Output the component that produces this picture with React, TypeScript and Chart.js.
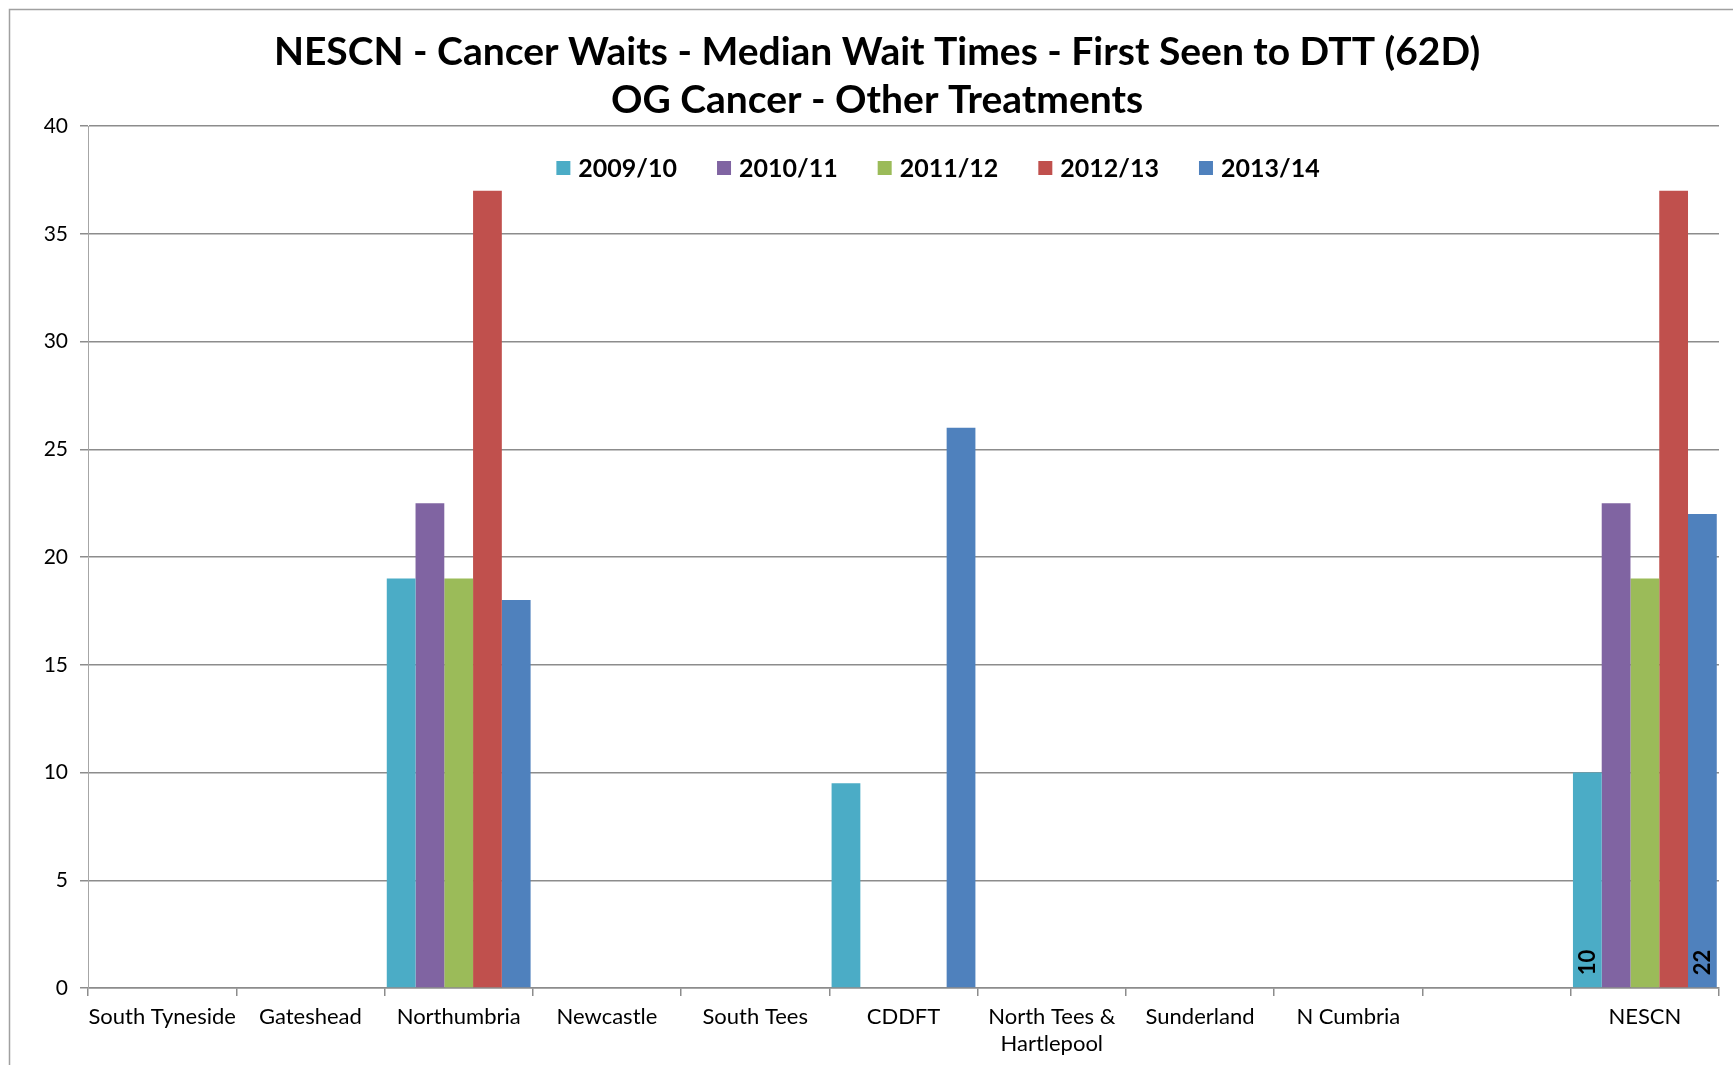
import React, { useEffect, useRef } from "react";
import { Chart, registerables } from "chart.js";

Chart.register(...registerables);

const titleLines = [
  "NESCN - Cancer Waits - Median Wait Times - First Seen to DTT (62D)",
  "OG Cancer - Other Treatments",
];

const categories: (string | string[])[] = [
  "South Tyneside",
  "Gateshead",
  "Northumbria",
  "Newcastle",
  "South Tees",
  "CDDFT",
  ["North Tees &", "Hartlepool"],
  "Sunderland",
  "N Cumbria",
  "",
  "NESCN",
];

const seriesLabels = ["2009/10", "2010/11", "2011/12", "2012/13", "2013/14"];
const seriesColors = ["#4BACC6", "#8064A2", "#9BBB59", "#C0504D", "#4F81BD"];

const values0910 = [null, null, 19, null, null, 9.5, null, null, null, null, 10];
const values1011 = [null, null, 22.5, null, null, null, null, null, null, null, 22.5];
const values1112 = [null, null, 19, null, null, null, null, null, null, null, 19];
const values1213 = [null, null, 37, null, null, null, null, null, null, null, 37];
const values1314 = [null, null, 18, null, null, 26, null, null, null, null, 22];

const seriesValues = [values0910, values1011, values1112, values1213, values1314];

// which bars carry a data label: [datasetIndex, categoryIndex]
const labelledBars: [number, number][] = [
  [0, 10],
  [4, 10],
];

const yMin = 0;
const yMax = 40;
const yStep = 5;

const FONT = "Lato, 'Noto Sans', sans-serif";

const decorPlugin = {
  id: "excelDecor",
  beforeDraw(chart: any) {
    const ctx = chart.ctx;
    ctx.save();
    ctx.fillStyle = "#ffffff";
    ctx.fillRect(0, 0, chart.width, chart.height);
    ctx.strokeStyle = "#a0a0a0";
    ctx.lineWidth = 1.5;
    ctx.strokeRect(9.5, 9.5, chart.width + 20, chart.height + 20);
    ctx.restore();
  },
  afterDraw(chart: any) {
    const ctx = chart.ctx;
    ctx.save();
    // title
    ctx.fillStyle = "#000000";
    ctx.font = `bold 39px ${FONT}`;
    ctx.textAlign = "center";
    ctx.textBaseline = "middle";
    titleLines.forEach((t, i) => {
      ctx.fillText(t, 877, 52 + i * 48);
    });

    // legend
    ctx.font = `bold 25px ${FONT}`;
    const sq = 14;
    const gapSq = 8;
    const gapItem = 40;
    const ds = chart.data.datasets;
    const widths = ds.map((d: any) => ctx.measureText(d.label).width);
    let total = 0;
    widths.forEach((w: number) => (total += sq + gapSq + w));
    total += gapItem * (ds.length - 1);
    let x = 938 - total / 2;
    const ly = 168;
    ctx.textAlign = "left";
    ds.forEach((d: any, i: number) => {
      ctx.fillStyle = d.backgroundColor;
      ctx.fillRect(x, ly - sq / 2, sq, sq);
      x += sq + gapSq;
      ctx.fillStyle = "#000000";
      ctx.fillText(d.label, x, ly + 1);
      x += widths[i] + gapItem;
    });

    // data labels
    ctx.font = `bold 22px ${FONT}`;
    labelledBars.forEach(([di, ci]) => {
      const el = chart.getDatasetMeta(di).data[ci];
      const v = chart.data.datasets[di].data[ci];
      if (!el || v == null) return;
      ctx.save();
      ctx.translate(el.x, el.base - 12);
      ctx.rotate(-Math.PI / 2);
      ctx.textAlign = "left";
      ctx.textBaseline = "middle";
      ctx.fillStyle = "#000000";
      ctx.fillText(String(v), 0, 1);
      ctx.restore();
    });
    ctx.restore();
  },
};

export default function App() {
  const ref = useRef<HTMLCanvasElement | null>(null);

  useEffect(() => {
    if (!ref.current) return;
    const chart = new Chart(ref.current, {
      type: "bar",
      data: {
        labels: categories,
        datasets: seriesLabels.map((label, i) => ({
          label,
          data: seriesValues[i],
          backgroundColor: seriesColors[i],
          borderWidth: 0,
          categoryPercentage: 0.97,
          barPercentage: 1.0,
        })),
      },
      options: {
        animation: false,
        responsive: true,
        maintainAspectRatio: false,
        layout: { padding: { top: 126, right: 14, bottom: 0, left: 0 } },
        plugins: {
          legend: { display: false },
          title: { display: false },
          tooltip: { enabled: false },
        },
        scales: {
          x: {
            offset: true,
            grid: {
              display: true,
              offset: true,
              drawOnChartArea: false,
              drawTicks: true,
              tickLength: 8,
              color: "#8c8c8c",
              lineWidth: 1.5,
            },
            border: { display: true, color: "#8c8c8c", width: 1.5 },
            ticks: {
              color: "#000000",
              font: { family: FONT, size: 22 },
              maxRotation: 0,
              minRotation: 0,
              autoSkip: false,
              padding: 8,
            },
            afterFit(scale: any) {
              scale.height = 77;
            },
          },
          y: {
            min: yMin,
            max: yMax,
            ticks: {
              stepSize: yStep,
              color: "#000000",
              font: { family: FONT, size: 21 },
              padding: 12,
            },
            grid: {
              color: "#8c8c8c",
              lineWidth: 1.5,
              drawTicks: true,
              tickLength: 8,
            },
            border: { display: true, color: "#a6a6a6", width: 1 },
            afterFit(scale: any) {
              scale.width = 88;
            },
          },
        },
      },
      plugins: [decorPlugin],
    });
    return () => chart.destroy();
  }, []);

  return (
    <div
      style={{
        position: "fixed",
        left: 0,
        top: 0,
        width: "1733px",
        height: "1065px",
        background: "#fff",
      }}
    >
      <canvas ref={ref} />
    </div>
  );
}
